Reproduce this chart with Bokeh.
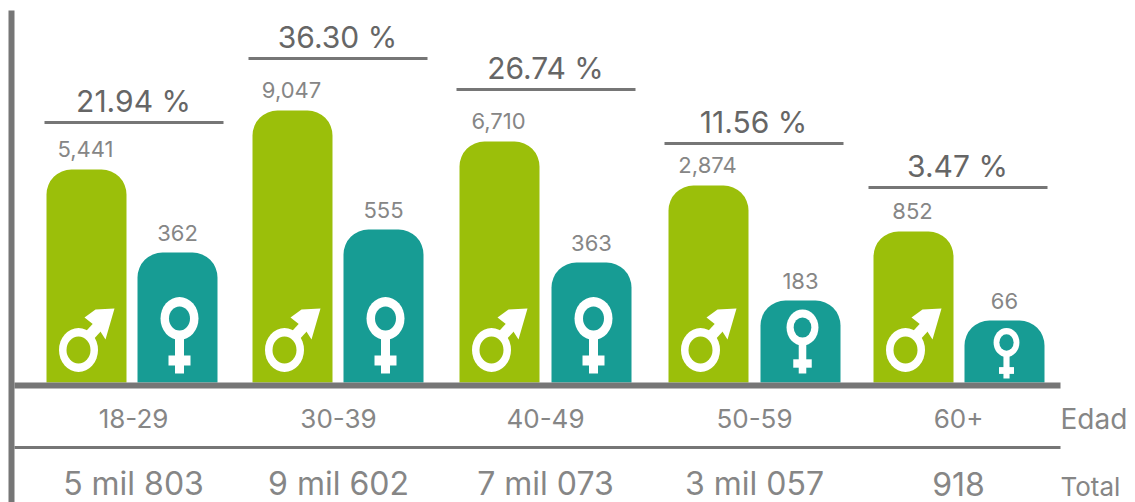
from bokeh.plotting import figure
from bokeh.models import Range1d
from bokeh.core.properties import value
from bokeh.embed import file_html
from bokeh.resources import INLINE

age_groups = ["18-29", "30-39", "40-49", "50-59", "60+"]
totals = ["5 mil 803", "9 mil 602", "7 mil 073", "3 mil 057", "918"]
percent = ["21.94 %", "36.30 %", "26.74 %", "11.56 %", "3.47 %"]
male_labels = ["5,441", "9,047", "6,710", "2,874", "852"]
female_labels = ["362", "555", "363", "183", "66"]
male_heights = [213, 272, 241, 197, 151]
female_heights = [130, 153, 120, 82, 62]

W, H = 1135, 502
BASE = 382
GREEN, TEAL, GRAY, TXT = "#9bbf0a", "#179c94", "#767676", "#868686"
FONT = value("Inter")
male_left = [46, 252, 459, 668, 873]
female_left = [137, 343, 551, 760, 964]
rule_left = [44, 248, 456, 664, 868]
pct_y = [122, 58, 89, 143, 187]
group_cx = [133, 338, 545, 754, 958]
BW = 80
female_scale = [1, 1, 1, 0.84, 0.68]
female_ring_y = [64, 64, 64, 55, 40]
female_cross_y = [22, 22, 22, 19, 12]
female_stem_y = [9, 9, 9, 9, 4]


def py(y):
    return BASE - y


p = figure(width=W, height=H, output_backend="svg", toolbar_location=None,
           x_range=Range1d(0, W), y_range=Range1d(BASE - H, BASE),
           min_border=0, outline_line_color=None)
p.axis.visible = False
p.grid.visible = False
p.background_fill_color = "white"

RADIUS = {"top_left": 25, "top_right": 25, "bottom_right": 0, "bottom_left": 0}
p.vbar(x=[l + BW / 2 for l in male_left], width=BW, bottom=0, top=male_heights,
       fill_color=GREEN, line_color=None, border_radius=RADIUS)
p.vbar(x=[l + BW / 2 for l in female_left], width=BW, bottom=0, top=female_heights,
       fill_color=TEAL, line_color=None, border_radius=RADIUS)

# male symbols
for l in male_left:
    p.segment(x0=[l + 43], y0=[47], x1=[l + 55], y1=[60], line_color="white", line_width=11)
    p.patch(x=[l + 38, l + 49, l + 68, l + 59, l + 52], y=[65, 73, 74, 43, 54],
            fill_color="white", line_color=None)
    p.ellipse(x=[l + 32], y=[32.5], width=39, height=44, fill_color="white", line_color=None)
    p.ellipse(x=[l + 32], y=[32.5], width=24, height=27, fill_color=GREEN, line_color=None)

# female symbols
for l, s, ry, cy, sy in zip(female_left, female_scale, female_ring_y, female_cross_y, female_stem_y):
    cx = l + 42
    p.segment(x0=[cx], y0=[sy], x1=[cx], y1=[ry - 15 * s], line_color="white", line_width=9 * s)
    p.segment(x0=[cx - 11 * s], y0=[cy], x1=[cx + 11 * s], y1=[cy], line_color="white", line_width=10 * s)
    p.ellipse(x=[cx], y=[ry], width=38 * s, height=43 * s, fill_color="white", line_color=None)
    p.ellipse(x=[cx], y=[ry], width=21 * s, height=24 * s, fill_color=TEAL, line_color=None)

# frame lines
p.segment(x0=[11], y0=[py(10)], x1=[11], y1=[py(502)], line_color=GRAY, line_width=6)
p.segment(x0=[14], y0=[py(385)], x1=[1060], y1=[py(385)], line_color=GRAY, line_width=6)
p.segment(x0=[14], y0=[py(447)], x1=[1060], y1=[py(447)], line_color=GRAY, line_width=3)
p.segment(x0=rule_left, y0=[py(y) for y in pct_y], x1=[l + 179 for l in rule_left],
          y1=[py(y) for y in pct_y], line_color=GRAY, line_width=3)

# texts
p.text(x=[l + 89 for l in rule_left], y=[py(y - 4) for y in pct_y], text=percent,
       text_font=FONT, text_font_size="30px", text_color="#666666", text_align="center",
       text_baseline="bottom")
p.text(x=[l + BW / 2 - 1 for l in male_left], y=[h + 13 for h in male_heights], text=male_labels,
       text_font=FONT, text_font_size="22px", text_color=TXT, text_align="center", text_baseline="bottom")
p.text(x=[l + BW / 2 for l in female_left], y=[h + 12 for h in female_heights], text=female_labels,
       text_font=FONT, text_font_size="22px", text_color=TXT, text_align="center", text_baseline="bottom")
p.text(x=group_cx, y=[py(418)] * 5, text=age_groups, text_font=FONT, text_font_size="26px",
       text_color=TXT, text_align="center", text_baseline="middle")
p.text(x=group_cx, y=[py(483)] * 5, text=totals, text_font=FONT, text_font_size="32px",
       text_color=TXT, text_align="center", text_baseline="middle")
p.text(x=[1060], y=[py(418)], text=["Edad"], text_font=FONT, text_font_size="28px",
       text_color=TXT, text_align="left", text_baseline="middle")
p.text(x=[1060], y=[py(486)], text=["Total"], text_font=FONT, text_font_size="26px",
       text_color=TXT, text_align="left", text_baseline="middle")

open("out.html", "w").write(file_html(p, INLINE))
